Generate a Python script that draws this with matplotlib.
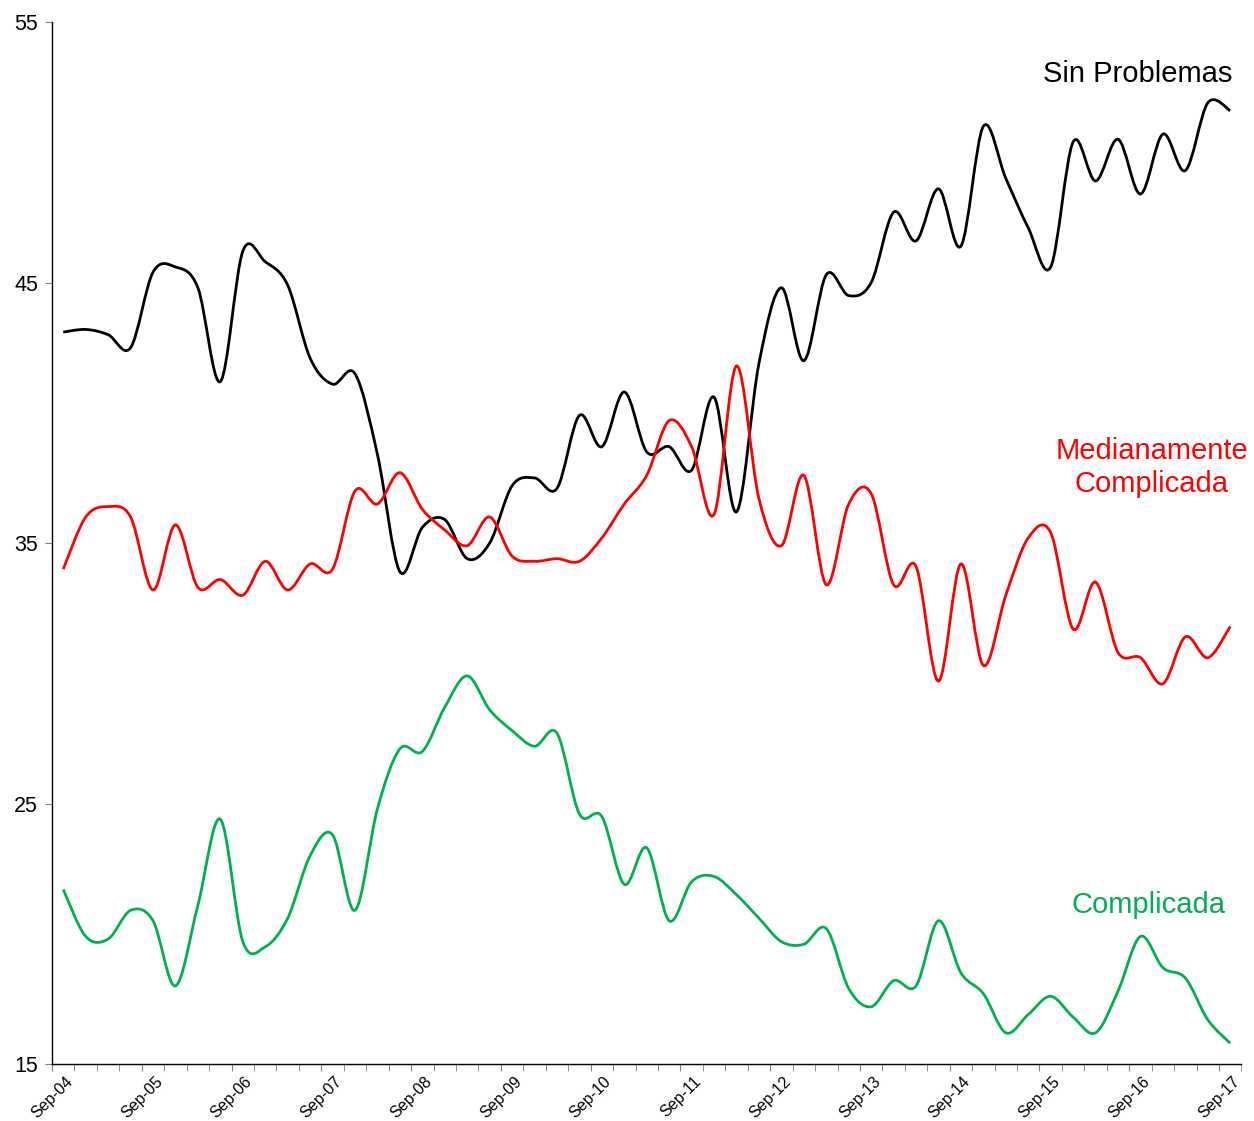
import numpy as np
import matplotlib.pyplot as plt
from matplotlib.path import Path
from matplotlib.patches import PathPatch

plt.rcParams['font.family'] = ['Liberation Sans', 'DejaVu Sans']

# quarterly values, Sep-04 .. Sep-17
sin_problemas = [43.1, 43.2, 43.0, 42.5, 45.4, 45.6, 44.8, 41.2, 46.2, 45.8, 44.9, 42.1, 41.1,
                 41.5, 38.4, 33.9, 35.6, 35.9, 34.4, 35.0, 37.2, 37.5, 37.1, 39.9, 38.7, 40.8,
                 38.5, 38.7, 37.8, 40.6, 36.2, 41.9, 44.8, 42.0, 45.3, 44.5, 45.0, 47.7, 46.6,
                 48.6, 46.4, 51.0, 49.0, 47.1, 45.6, 50.4, 48.9, 50.5, 48.4, 50.7, 49.3, 51.9, 51.6]
medianamente = [34.0, 36.0, 36.4, 36.0, 33.2, 35.7, 33.3, 33.6, 33.0, 34.3, 33.2, 34.2, 34.0,
                37.0, 36.5, 37.7, 36.3, 35.5, 34.9, 36.0, 34.5, 34.3, 34.4, 34.3, 35.2, 36.5,
                37.6, 39.7, 38.7, 36.1, 41.8, 36.7, 34.9, 37.6, 33.4, 36.5, 36.9, 33.4, 34.1,
                29.7, 34.2, 30.3, 33.0, 35.2, 35.4, 31.7, 33.5, 30.8, 30.6, 29.6, 31.4, 30.6, 31.8]
complicada = [21.7, 19.9, 19.8, 20.9, 20.5, 18.0, 21.1, 24.4, 19.7, 19.5, 20.6, 23.0, 23.8,
              20.9, 24.8, 27.1, 27.0, 28.7, 29.9, 28.6, 27.8, 27.2, 27.7, 24.6, 24.5, 21.9,
              23.3, 20.5, 22.0, 22.2, 21.5, 20.6, 19.7, 19.6, 20.2, 17.9, 17.2, 18.2, 18.0,
              20.5, 18.5, 17.7, 16.2, 16.9, 17.6, 16.8, 16.2, 17.8, 19.9, 18.7, 18.3, 16.7, 15.8]
year_labels = ['Sep-%02d' % y for y in range(4, 18)]


def smooth_path(xs, ys):
    # excel-like smoothed line: cubic bezier through every point
    p = np.column_stack([xs, ys])
    n = len(p)
    verts = [p[0]]
    codes = [Path.MOVETO]
    for i in range(n - 1):
        p_prev = p[max(i - 1, 0)]
        p_next2 = p[min(i + 2, n - 1)]
        c1 = p[i] + (p[i + 1] - p_prev) / 6.0
        c2 = p[i + 1] - (p_next2 - p[i]) / 6.0
        verts += [c1, c2, p[i + 1]]
        codes += [Path.CURVE4] * 3
    return Path(verts, codes)


fig = plt.figure(figsize=(12.54, 11.21), dpi=100)
ax = fig.add_axes([0.0415, 0.0508, 0.9485, 0.9295])

x = np.arange(len(sin_problemas)) + 0.5
for vals, col in [(sin_problemas, 'black'), (medianamente, '#FF0000'), (complicada, '#00B050')]:
    ax.add_patch(PathPatch(smooth_path(x, vals), fill=False, edgecolor=col, lw=2.0))

ax.set_xlim(0, len(sin_problemas))
ax.set_ylim(15, 55)
ax.set_yticks([15, 25, 35, 45, 55])
ax.set_xticks(np.arange(0, 4 * len(year_labels), 4))
ax.set_xticklabels(year_labels, rotation=45, ha='center', fontsize=11.5)
ax.set_xticks(np.arange(0, len(sin_problemas) + 1), minor=True)
ax.tick_params(axis='y', labelsize=15.5, length=5, color='#808080', direction='out', pad=5)
ax.tick_params(axis='x', which='both', length=5, color='#808080', direction='out', pad=2)

for s in ['top', 'right']:
    ax.spines[s].set_visible(False)
for s in ['left', 'bottom']:
    ax.spines[s].set_linewidth(1.0)

ax.text(52.6, 53.0, 'Sin Problemas', fontsize=21, color='black', ha='right', va='center')
ax.text(49.0, 37.9, 'Medianamente\nComplicada', fontsize=21, color='#FF0000',
        ha='center', va='center', linespacing=1.2)
ax.text(48.85, 21.1, 'Complicada', fontsize=21, color='#00B050', ha='center', va='center')

fig.savefig('out.png', dpi=100)
